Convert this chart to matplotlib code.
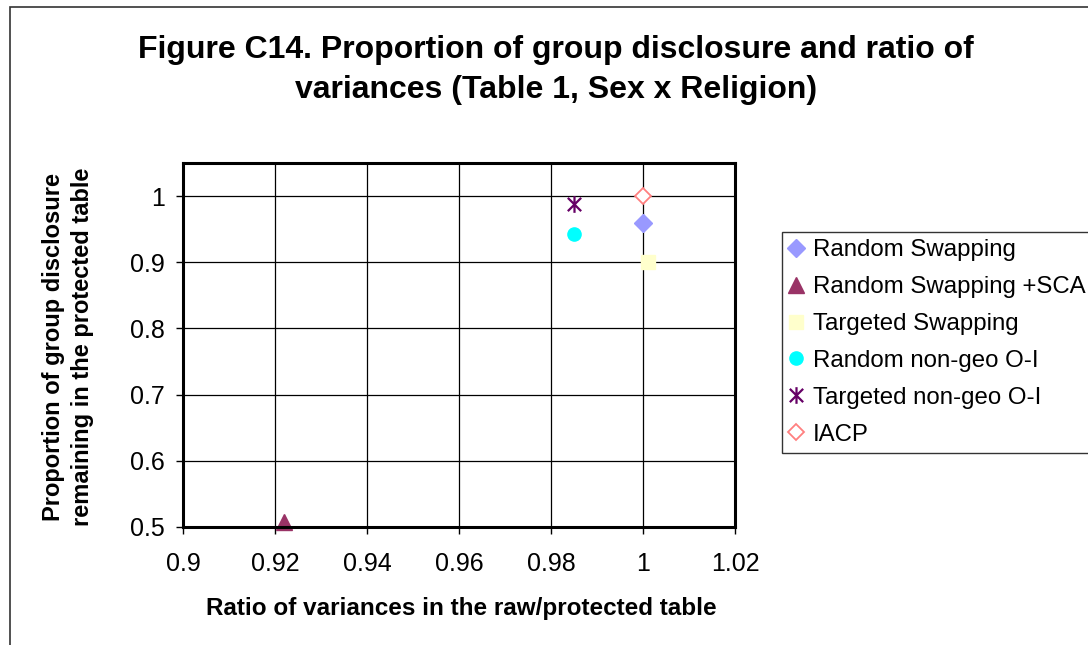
import matplotlib
matplotlib.use('Agg')
import matplotlib.pyplot as plt
from matplotlib.path import Path
from matplotlib.patches import Rectangle

plt.rcParams['font.family'] = ['Liberation Sans', 'DejaVu Sans']

# data
series = ['Random Swapping', 'Random Swapping +SCA', 'Targeted Swapping',
          'Random non-geo O-I', 'Targeted non-geo O-I', 'IACP']
ratio_x = [1.0, 0.922, 1.001, 0.985, 0.985, 1.0]
prop_y = [0.96, 0.508, 0.90, 0.942, 0.988, 1.0]

x_ticks = [0.9, 0.92, 0.94, 0.96, 0.98, 1.0, 1.02]
x_labels = ['0.9', '0.92', '0.94', '0.96', '0.98', '1', '1.02']
y_ticks = [0.5, 0.6, 0.7, 0.8, 0.9, 1.0]
y_labels = ['0.5', '0.6', '0.7', '0.8', '0.9', '1']

# excel style asterisk: vertical bar plus an x
star = Path([(0, -1), (0, 1), (-0.8, -0.8), (0.8, 0.8), (-0.8, 0.8), (0.8, -0.8)],
            [Path.MOVETO, Path.LINETO] * 3)

styles = [
    dict(marker='D', ms=9.5, mfc='#9999FF', mec='#9999FF'),
    dict(marker='^', ms=11, mfc='#993366', mec='#993366'),
    dict(marker='s', ms=9.5, mfc='#FFFFCC', mec='#FFFFCC'),
    dict(marker='o', ms=9.5, mfc='#00FFFF', mec='#00FFFF'),
    dict(marker=star, ms=12, mfc='none', mec='#660066', mew=1.6),
    dict(marker='D', ms=8.5, mfc='white', mec='#FF8080', mew=1.3),
]

W, H = 1088, 645
fig = plt.figure(figsize=(W / 100, H / 100), dpi=100)
fig.patches.append(Rectangle((10 / W, -0.1), 1.2, 1 - 7 / H + 0.1,
                             transform=fig.transFigure, fill=False,
                             edgecolor='#333333', linewidth=1.2))

ax = fig.add_axes([183 / W, 1 - 527 / H, 552 / W, 364 / H])

for name, x, y, st in zip(series, ratio_x, prop_y, styles):
    ax.plot([x], [y], linestyle='none', label=name, clip_on=False, **st)

ax.set_xlim(0.9, 1.02)
ax.set_ylim(0.5, 1.05)
ax.set_xticks(x_ticks)
ax.set_xticklabels(x_labels)
ax.set_yticks(y_ticks)
ax.set_yticklabels(y_labels)
ax.grid(True, color='black', linewidth=0.9)
ax.set_axisbelow(True)
for sp in ax.spines.values():
    sp.set_linewidth(2.2)
    sp.set_color('black')
ax.tick_params(direction='out', length=5, width=1, labelsize=18)
ax.tick_params(axis='x', pad=13)
ax.tick_params(axis='y', pad=8)

fig.text(461 / W, 1 - 608 / H, 'Ratio of variances in the raw/protected table',
         ha='center', va='center', fontsize=17.5, fontweight='bold')
fig.text(68 / W, 1 - 347 / H,
         'Proportion of group disclosure\nremaining in the protected table',
         ha='center', va='center', rotation=90, fontsize=17,
         fontweight='bold', linespacing=1.35)

fig.text(556 / W, 1 - 70 / H,
         'Figure C14. Proportion of group disclosure and ratio of\n'
         'variances (Table 1, Sex x Religion)',
         ha='center', va='center', fontsize=23, fontweight='bold', linespacing=1.45)

leg = ax.legend(loc='upper left', bbox_to_anchor=(782 / W, 1 - 232 / H),
                bbox_transform=fig.transFigure, fontsize=17.3, frameon=True,
                fancybox=False, edgecolor='black', borderaxespad=0,
                handlelength=0.6, handletextpad=0.4, labelspacing=0.62,
                borderpad=0.3, numpoints=1)
leg.get_frame().set_linewidth(1.0)

fig.savefig('out.png', dpi=100)
